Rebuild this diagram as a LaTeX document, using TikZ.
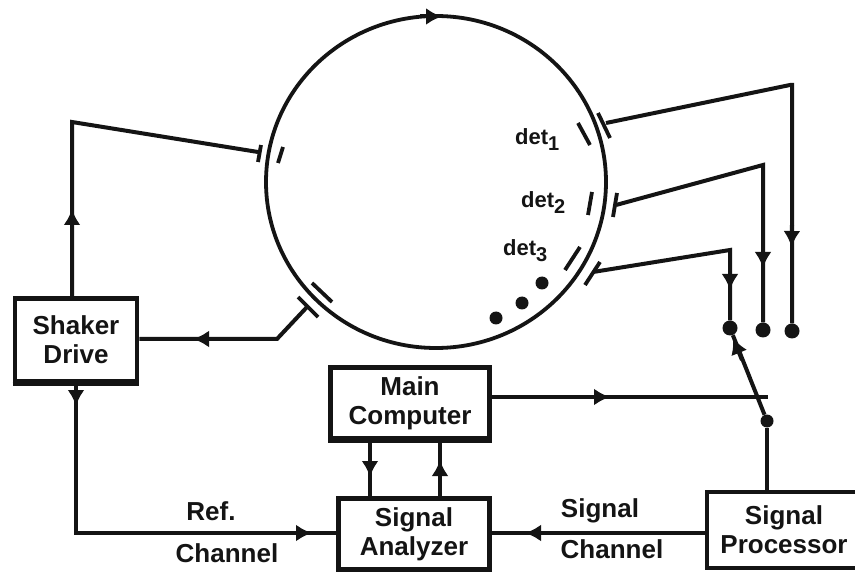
\documentclass[tikz,border=0pt]{standalone}
\usepackage{fontspec}
\setmainfont{Liberation Sans}[BoldFont={Liberation Sans Bold}]
\usetikzlibrary{arrows.meta,shapes.geometric}
\definecolor{ink}{gray}{0.08}
\newcommand{\dsub}[1]{\raisebox{-6pt}{\fontsize{20}{20}\selectfont #1}}
\tikzset{
  x=1pt,y=-1pt,
  wire/.style={draw=ink,line width=4pt,line join=miter},
  tip/.style={draw=ink,line width=4pt,-{Latex[length=16pt,width=17pt]}},
  bar/.style={draw=ink,line width=3.8pt},
  blockbox/.style={draw=ink,line width=4.8pt,fill=white,inner sep=0pt,align=center,text=ink,
     font=\bfseries\fontsize{26}{29}\selectfont},
  lab/.style={inner sep=0pt,text=ink,font=\bfseries\fontsize{26}{28}\selectfont},
  detlab/.style={inner sep=0pt,text=ink,font=\bfseries\fontsize{22}{26}\selectfont},
  contact/.style={circle,fill=ink,draw=none,inner sep=0pt,minimum size=15pt},
  dotmark/.style={circle,fill=ink,draw=none,inner sep=0pt,minimum size=13pt},
  ring/.style={ellipse,draw=ink,line width=3.8pt,inner sep=0pt,minimum width=340pt,minimum height=332pt}
}
\begin{document}
\begin{tikzpicture}
\useasboundingbox (0,0) rectangle (855,572);
\clip (0,0) rectangle (855,572);
\fill[white] (0,0) rectangle (855,572);
% ring
\node[ring] (ring) at (436,182) {};
\coordinate (ringtop) at (420,16.5);
\coordinate (ringtip) at (442,16.5);
\draw[tip] (ringtop) -- (ringtip);
% boxes
\node[blockbox,minimum width=122pt,minimum height=83pt] (sd) at (76,340) {Shaker\\Drive};
\node[blockbox,minimum width=159pt,minimum height=71pt] (mc) at (410,403) {\fontsize{26}{28}\selectfont Main\\Computer};
\node[blockbox,minimum width=151pt,minimum height=71pt] (sa) at (414,534) {Signal\\Analyzer};
\node[blockbox,minimum width=154pt,minimum height=76pt] (sp) at (784,530) {\fontsize{26}{34}\selectfont Signal\\Processor};
\draw[wire,line width=3.4pt] (sd.south west) -- (sd.south east);
\draw[wire,line width=3.4pt] (mc.south west) -- (mc.south east);
% junctions
\coordinate (d1a) at (606,123); \coordinate (d1b) at (790,85);
\coordinate (d2a) at (616,205); \coordinate (d2b) at (763,165);
\coordinate (d3a) at (593,272); \coordinate (d3b) at (730,250);
\node[contact] (c1) at (792,331) {};
\node[contact] (c2) at (763,330) {};
\node[contact] (c3) at (730,328) {};
\node[contact,minimum size=13pt] (cw) at (767,421) {};
\coordinate (t1) at (791.5,247); \coordinate (t2) at (763,268); \coordinate (t3) at (730,290);
% detector lines
\draw[wire] (d1a) -- (d1b) -- (792,85) -- (c1);
\draw[wire] (d2a) -- (d2b) -- (c2);
\draw[wire] (d3a) -- (d3b) -- (c3);
\draw[tip] (792,225) -- (t1);
\draw[tip] (763,246) -- (t2);
\draw[tip] (730,268) -- (t3);
% detector bars
\draw[bar] (598,113) -- (610,138);
\draw[bar] (578,123) -- (590,145);
\draw[bar] (617,193) -- (613,217);
\draw[bar] (592,192) -- (588,215);
\draw[bar] (600,262) -- (585,285);
\draw[bar] (580,247) -- (565,270);
% labels
\node[detlab,anchor=base west] (l1) at (515,145) {det\dsub{1}};
\node[detlab,anchor=base west] (l2) at (521,208) {det\dsub{2}};
\node[detlab,anchor=base west] (l3) at (503,256) {det\dsub{3}};
\node[dotmark] (p1) at (542,283) {};
\node[dotmark] (p2) at (522,303) {};
\node[dotmark] (p3) at (496,318) {};
% switch
\draw[wire] (c3) -- (cw);
\coordinate (swtail) at (742,360); \coordinate (swtip) at (733,338);
\draw[tip] (swtail) -- (swtip);
\draw[wire] (cw) -- (sp.north -| cw);
% main computer to switch
\coordinate (mcend) at (768,397);
\draw[wire] (mc.east |- mcend) -- (mcend);
\coordinate (mctail) at (585,397); \coordinate (mctip) at (610,397);
\draw[tip] (mctail) -- (mctip);
% shaker
\coordinate (sk1) at (72,122); \coordinate (sk2) at (258,152);
\draw[wire] (sd.north -| sk1) -- (sk1) -- (sk2);
\coordinate (sk1t) at (72,209);
\draw[tip] (72,235) -- (sk1t);
\draw[bar] (261,145) -- (258,162);
\draw[bar] (283,147) -- (278,163);
% pickup to shaker
\coordinate (pk1) at (307,307); \coordinate (pk2) at (277,339);
\draw[wire] (pk1) -- (pk2) -- (sd.east |- pk2);
\coordinate (pkt) at (193,339);
\draw[tip] (220,339) -- (pkt);
\draw[bar] (298,297) -- (318,317);
\draw[bar] (312,283) -- (332,302);
% ref channel
\coordinate (rc) at (76,533);
\draw[wire] (sd.south -| rc) -- (rc) -- (sa.west |- rc);
\coordinate (rct) at (76,406);
\draw[tip] (76,385) -- (rct);
\coordinate (rcat) at (312,533);
\draw[tip] (290,533) -- (rcat);
% signal channel
\draw[wire] (sp.west |- rc) -- (sa.east |- rc);
\coordinate (sct) at (525,533);
\draw[tip] (545,533) -- (sct);
% computer <-> analyzer
\coordinate (dn) at (370,0); \coordinate (up) at (440,0);
\draw[wire] (mc.south -| dn) -- (sa.north -| dn);
\draw[wire] (sa.north -| up) -- (mc.south -| up);
\draw[tip] (370,455) -- (370,477);
\draw[tip] (440,480) -- (440,460);
% text labels
\node[lab,anchor=center] (tr) at (211,511) {Ref.};
\node[lab,anchor=center] (tc) at (227,553) {Channel};
\node[lab,anchor=center] (ts) at (600,511) {Signal};
\node[lab,anchor=center] (tc2) at (612,549) {Channel};
\end{tikzpicture}
\end{document}
